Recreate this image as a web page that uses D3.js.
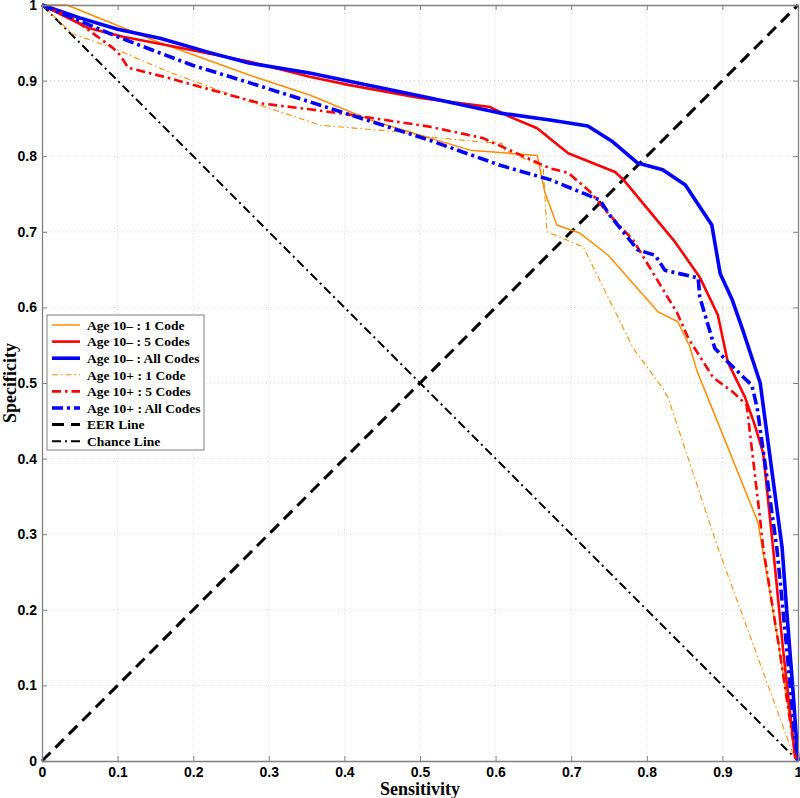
<!DOCTYPE html>
<html>
<head>
<meta charset="utf-8">
<script src="https://cdn.jsdelivr.net/npm/d3@7"></script>
<style>
  html, body { margin: 0; padding: 0; background: #fff; }
  svg { display: block; }
</style>
</head>
<body>
<svg id="chart" width="800" height="798"></svg>
<script>
// ---- data: [sensitivity, specificity] ----
const age10m_1code = [[0,1],[0.033,1],[0.156,0.95],[0.275,0.907],[0.354,0.881],[0.434,0.848],[0.566,0.808],[0.655,0.801],[0.665,0.753],[0.681,0.709],[0.712,0.698],[0.749,0.669],[0.815,0.594],[0.841,0.581],[0.857,0.548],[0.866,0.517],[0.947,0.316],[0.975,0.15],[0.99,0.05],[1,0]];
const age10m_5codes = [[0,1],[0.06,0.97],[0.107,0.958],[0.169,0.946],[0.275,0.925],[0.354,0.905],[0.407,0.894],[0.5,0.877],[0.593,0.865],[0.619,0.852],[0.655,0.837],[0.696,0.804],[0.758,0.779],[0.769,0.769],[0.837,0.687],[0.87,0.64],[0.894,0.59],[0.907,0.528],[0.93,0.481],[0.943,0.444],[0.954,0.407],[0.967,0.282],[0.98,0.15],[0.99,0.06],[0.996,0.005],[1,0]];
const age10m_all = [[0,1],[0.05,0.983],[0.1,0.968],[0.156,0.956],[0.222,0.937],[0.275,0.923],[0.354,0.91],[0.513,0.877],[0.606,0.857],[0.672,0.848],[0.722,0.84],[0.755,0.819],[0.788,0.791],[0.821,0.782],[0.851,0.762],[0.87,0.733],[0.886,0.709],[0.897,0.645],[0.913,0.61],[0.927,0.57],[0.95,0.5],[0.979,0.282],[0.985,0.2],[0.993,0.098],[1,0]];
const age10p_1code = [[0,1],[0.04,0.962],[0.094,0.943],[0.169,0.911],[0.275,0.872],[0.368,0.841],[0.474,0.832],[0.517,0.825],[0.579,0.819],[0.608,0.817],[0.612,0.808],[0.663,0.786],[0.668,0.7],[0.716,0.68],[0.782,0.546],[0.821,0.493],[0.828,0.481],[0.894,0.282],[0.995,0.005],[1,0]];
const age10p_5codes = [[0,1],[0.037,0.985],[0.094,0.943],[0.103,0.934],[0.114,0.917],[0.169,0.903],[0.288,0.87],[0.354,0.862],[0.407,0.855],[0.513,0.839],[0.583,0.824],[0.672,0.784],[0.696,0.778],[0.725,0.753],[0.751,0.722],[0.782,0.689],[0.84,0.593],[0.855,0.559],[0.888,0.507],[0.914,0.488],[0.932,0.471],[0.934,0.455],[0.95,0.319],[0.954,0.282],[0.975,0.15],[0.99,0.05],[0.997,0.005],[1,0]];
const age10p_all = [[0,1],[0.05,0.979],[0.1,0.958],[0.16,0.935],[0.2,0.92],[0.275,0.897],[0.354,0.872],[0.513,0.821],[0.606,0.788],[0.672,0.769],[0.738,0.742],[0.751,0.722],[0.788,0.676],[0.811,0.669],[0.824,0.649],[0.868,0.639],[0.87,0.614],[0.89,0.546],[0.907,0.528],[0.939,0.497],[0.946,0.467],[0.972,0.282],[0.985,0.15],[0.995,0.04],[1,0]];
const eerLine = [[0,0],[1,1]];
const chanceLine = [[0,1],[1,0]];

const seriesNames = ["Age 10\u2013 : 1 Code","Age 10\u2013 : 5 Codes","Age 10\u2013 : All Codes","Age 10+ : 1 Code","Age 10+ : 5 Codes","Age 10+ : All Codes","EER Line","Chance Line"];
const tickValues = [0,0.1,0.2,0.3,0.4,0.5,0.6,0.7,0.8,0.9,1];
const tickLabels = ["0","0.1","0.2","0.3","0.4","0.5","0.6","0.7","0.8","0.9","1"];
const xTitle = "Sensitivity";
const yTitle = "Specificity";

// ---- layout ----
const L = 42, R = 798, T = 5, B = 761;
const svg = d3.select("#chart");
const x = d3.scaleLinear().domain([0,1]).range([L,R]);
const y = d3.scaleLinear().domain([0,1]).range([B,T]);

// grid
const grid = svg.append("g");
tickValues.slice(1,-1).forEach(v => {
  grid.append("line").attr("x1",x(v)).attr("x2",x(v)).attr("y1",T).attr("y2",B)
    .attr("stroke","#d4d4d4").attr("stroke-width",1).attr("stroke-dasharray","1,3");
  grid.append("line").attr("y1",y(v)).attr("y2",y(v)).attr("x1",L).attr("x2",R)
    .attr("stroke","#d4d4d4").attr("stroke-width",1).attr("stroke-dasharray","1,3");
});

// series styles
const styles = [
  {data: age10m_1code, color:"#FF8C00", w:1.5, dash:null},
  {data: age10m_5codes, color:"#FF0000", w:2.6, dash:null},
  {data: age10m_all, color:"#0000FF", w:3.6, dash:null},
  {data: age10p_1code, color:"#FF8C00", w:1.1, dash:"6,3,1.5,3"},
  {data: age10p_5codes, color:"#FF0000", w:2.6, dash:"9,4,2.5,4"},
  {data: age10p_all, color:"#0000FF", w:3.6, dash:"11,4,3,4"},
  {data: eerLine, color:"#000000", w:3, dash:"12,7"},
  {data: chanceLine, color:"#000000", w:2, dash:"9,4,2,4"}
];

const line = d3.line().x(d => x(d[0])).y(d => y(d[1]));
const plot = svg.append("g");
[6,7,0,1,2,3,4,5].forEach(i => {
  const s = styles[i];
  plot.append("path").datum(s.data).attr("d",line)
    .attr("fill","none").attr("stroke",s.color).attr("stroke-width",s.w)
    .attr("stroke-linejoin","round")
    .attr("stroke-dasharray",s.dash);
});

// axes
const axisColor = "#808080";
const fmt = (d) => tickLabels[tickValues.indexOf(d)];
const ax = svg.append("g");
ax.append("g").attr("transform",`translate(0,${B})`)
  .call(d3.axisBottom(x).tickValues(tickValues).tickFormat(fmt).tickSize(-5).tickPadding(6));
ax.append("g").attr("transform",`translate(0,${T})`)
  .call(d3.axisTop(x).tickValues(tickValues).tickFormat("").tickSize(-5));
ax.append("g").attr("transform",`translate(${L},0)`)
  .call(d3.axisLeft(y).tickValues(tickValues).tickFormat(fmt).tickSize(-5).tickPadding(5));
ax.append("g").attr("transform",`translate(${R},0)`)
  .call(d3.axisRight(y).tickValues(tickValues).tickFormat("").tickSize(-5));
ax.selectAll(".domain").attr("stroke",axisColor).attr("stroke-width",1.3);
ax.selectAll(".tick line").attr("stroke",axisColor).attr("stroke-width",1);
ax.selectAll(".tick text").attr("fill","#000")
  .style("font-family","'Liberation Sans', Arial, Helvetica, sans-serif")
  .style("font-weight","bold").style("font-size","14px");

// axis titles
svg.append("text").attr("x",(L+R)/2).attr("y",795).attr("text-anchor","middle")
  .style("font-family","'Liberation Serif','Times New Roman',serif").style("font-weight","bold")
  .style("font-size","18px").text(xTitle);
svg.append("text").attr("transform",`translate(16,${(T+B)/2}) rotate(-90)`).attr("text-anchor","middle")
  .style("font-family","'Liberation Serif','Times New Roman',serif").style("font-weight","bold")
  .style("font-size","18px").text(yTitle);

// legend
const lg = svg.append("g");
lg.append("rect").attr("x",47).attr("y",315).attr("width",157).attr("height",135)
  .attr("fill","#fff").attr("stroke",axisColor).attr("stroke-width",1);
styles.forEach((s,i) => {
  const yy = 325 + i*16.6;
  lg.append("line").attr("x1",52).attr("x2",80).attr("y1",yy).attr("y2",yy)
    .attr("stroke",s.color).attr("stroke-width",s.w).attr("stroke-dasharray",s.dash);
  lg.append("text").attr("x",87).attr("y",yy).attr("dy","0.35em")
    .style("font-family","'Liberation Serif','Times New Roman',serif").style("font-weight","bold")
    .style("font-size","13.5px").text(seriesNames[i]);
});
</script>
</body>
</html>
